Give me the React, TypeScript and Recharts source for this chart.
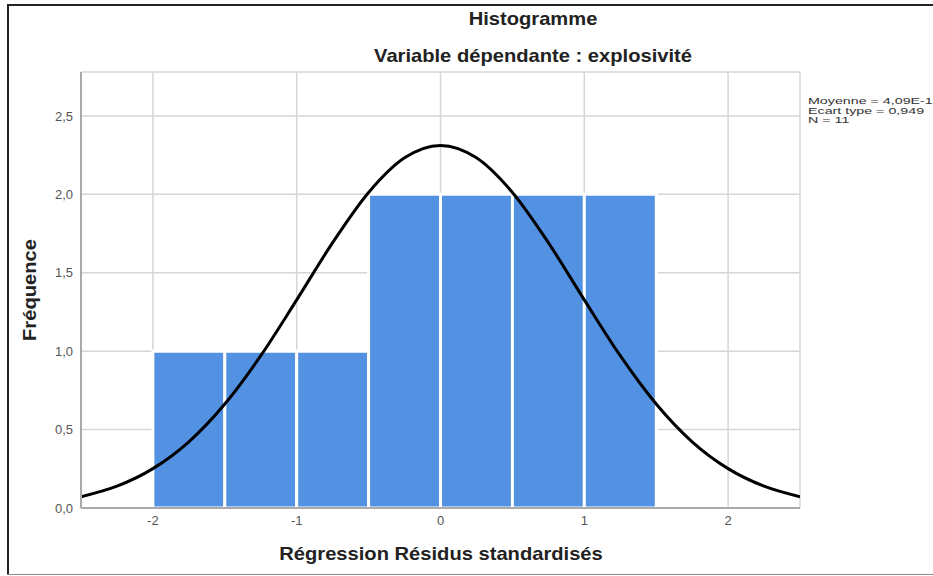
import {
  ComposedChart,
  Bar,
  Line,
  XAxis,
  YAxis,
  CartesianGrid,
} from "recharts";

// bin centres (width 0.5) and counts
const binCenters = [-1.75, -1.25, -0.75, -0.25, 0.25, 0.75, 1.25];
const binCounts = [1, 1, 1, 2, 2, 2, 2];

// normal curve
const curveX = [
  -2.5, -2.25, -2, -1.75, -1.5, -1.25, -1, -0.75, -0.5, -0.25, 0, 0.25, 0.5,
  0.75, 1, 1.25, 1.5, 1.75, 2, 2.25, 2.5,
];
const curveY = [
  0.072, 0.139, 0.251, 0.422, 0.663, 0.971, 1.327, 1.692, 2.012, 2.233, 2.312,
  2.233, 2.012, 1.692, 1.327, 0.971, 0.663, 0.422, 0.251, 0.139, 0.072,
];

const xTicks = [-2, -1, 0, 1, 2];
const yTicks = [0, 0.5, 1, 1.5, 2, 2.5];

const statsLines = ["Moyenne = 4,09E-15", "Ecart type = 0,949", "N = 11"];

const bins = binCenters.map((x, i) => ({ x, count: binCounts[i] }));
const curve = curveX.map((x, i) => ({ x, y: curveY[i] }));

const font = "'Liberation Sans', Arial, sans-serif";
const tick = { fontSize: 13, fill: "#555", fontFamily: font };

const boldLabel = {
  position: "absolute" as const,
  fontSize: 19,
  fontWeight: "bold" as const,
  color: "#222",
  whiteSpace: "nowrap" as const,
};

export default function App() {
  return (
    <div
      style={{
        position: "absolute",
        left: 0,
        top: 0,
        width: 933,
        height: 576,
        background: "#fff",
        fontFamily: font,
        overflow: "hidden",
      }}
    >
      <ComposedChart
        width={933}
        height={576}
        data={bins}
        barCategoryGap={0}
        barGap={0}
        margin={{ top: 72, right: 133, bottom: 38, left: 31 }}
      >
        <CartesianGrid stroke="#d6d6d6" strokeWidth={1.5} />
        <XAxis
          type="number"
          dataKey="x"
          domain={[-2.5, 2.5]}
          ticks={xTicks}
          tick={tick}
          tickLine={false}
          axisLine={{ stroke: "#aaa", strokeWidth: 2 }}
          height={30}
          allowDataOverflow
        />
        <XAxis
          xAxisId="curve"
          type="number"
          dataKey="x"
          domain={[-2.5, 2.5]}
          hide
          allowDataOverflow
        />
        <YAxis
          type="number"
          domain={[0, 2.78]}
          ticks={yTicks}
          tick={tick}
          tickLine={false}
          axisLine={{ stroke: "#aaa", strokeWidth: 2 }}
          tickFormatter={(v: number) => v.toFixed(1).replace(".", ",")}
          width={50}
          allowDataOverflow
        />
        <Bar
          dataKey="count"
          fill="#5392e2"
          stroke="#fff"
          strokeWidth={3}
          isAnimationActive={false}
        />
        <Line
          data={curve}
          xAxisId="curve"
          dataKey="y"
          type="monotone"
          stroke="#000"
          strokeWidth={3}
          dot={false}
          activeDot={false}
          isAnimationActive={false}
        />
      </ComposedChart>

      <div style={{ ...boldLabel, left: 533, top: 8, transform: "translateX(-50%) scaleX(1.06)" }}>
        Histogramme
      </div>
      <div style={{ ...boldLabel, left: 533, top: 45, transform: "translateX(-50%) scaleX(1.06)" }}>
        Variable dépendante : explosivité
      </div>
      <div style={{ ...boldLabel, left: 441, top: 543, transform: "translateX(-50%) scaleX(1.06)" }}>
        Régression Résidus standardisés
      </div>
      <div
        style={{
          ...boldLabel,
          left: 30,
          top: 290,
          transform: "translate(-50%, -50%) rotate(-90deg) scaleX(1.06)",
        }}
      >
        Fréquence
      </div>
      <div
        style={{
          position: "absolute",
          left: 808,
          top: 96,
          fontSize: 9.5,
          lineHeight: "9.5px",
          color: "#333",
          whiteSpace: "nowrap",
          transform: "scaleX(1.5)",
          transformOrigin: "left top",
        }}
      >
        {statsLines.map((s) => (
          <div key={s}>{s}</div>
        ))}
      </div>

      {/* frame */}
      <div style={{ position: "absolute", left: 7, top: 4, width: 926, height: 2, background: "#222" }} />
      <div style={{ position: "absolute", left: 7, top: 4, width: 2, height: 571, background: "#222" }} />
      <div style={{ position: "absolute", left: 7, top: 574, width: 926, height: 1, background: "#888" }} />
    </div>
  );
}
